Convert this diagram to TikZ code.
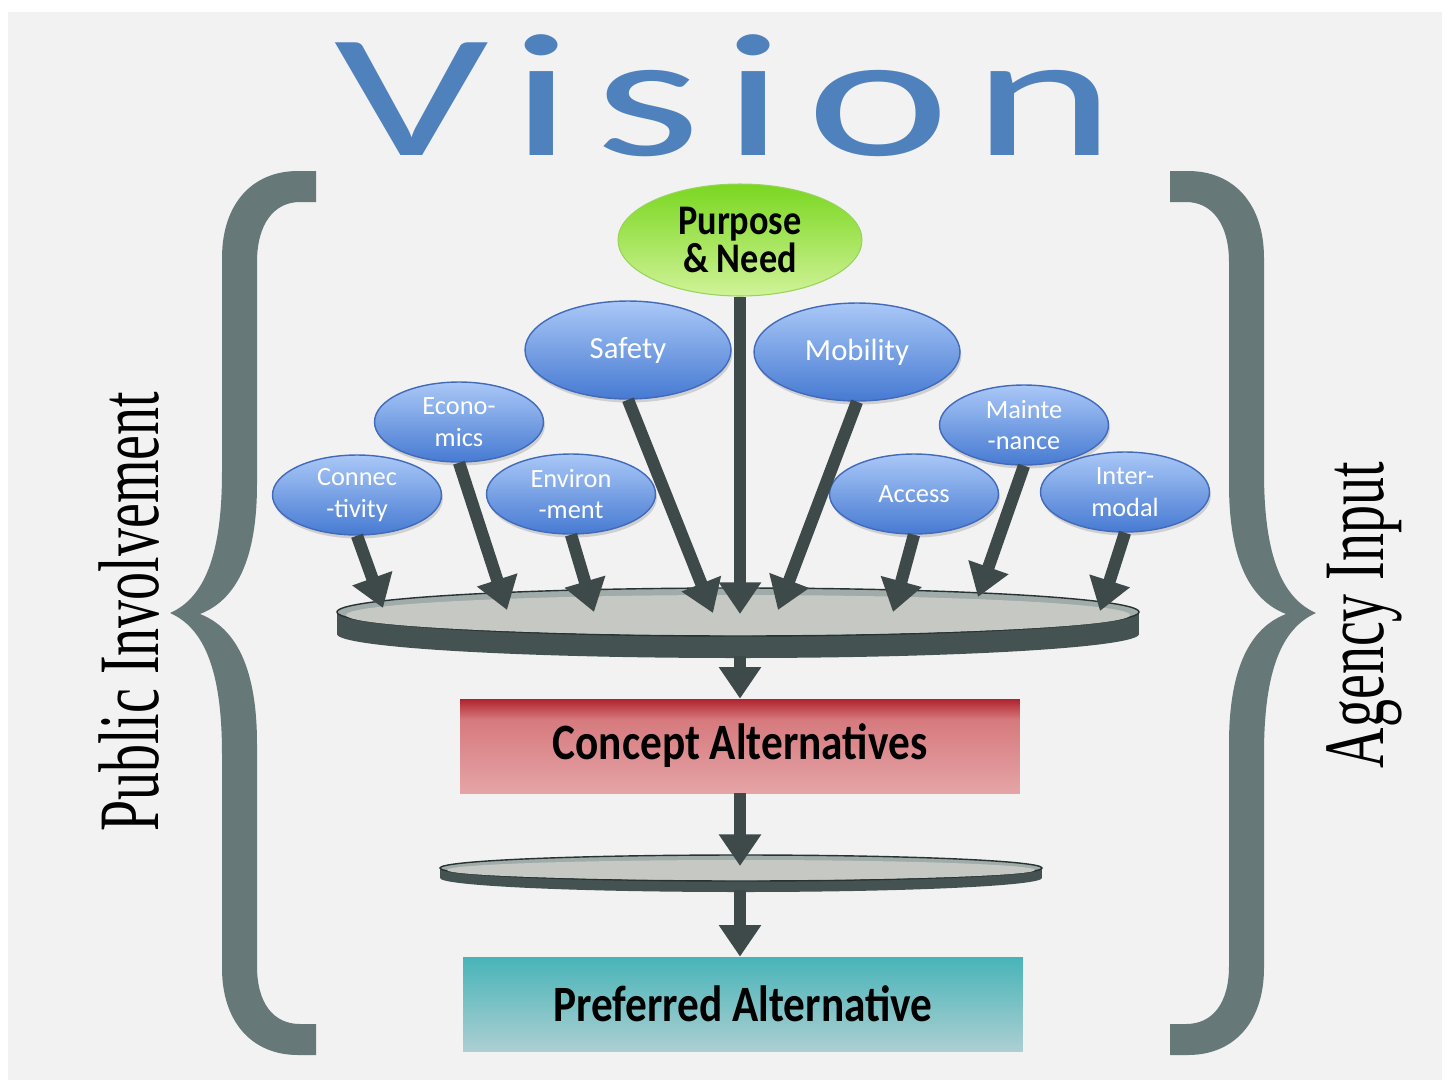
\documentclass[tikz,border=0pt]{standalone}
\usepackage{fontspec}
\newfontfamily\calib{Carlito}
\newfontfamily\visfont[LetterSpace=8]{Carlito}
\newfontfamily\serifcond{Liberation Serif}
\usetikzlibrary{shapes.geometric}
\usetikzlibrary{arrows.meta}
\usetikzlibrary{shadows}

\definecolor{bgray}{RGB}{242,242,242}
\definecolor{visblue}{RGB}{79,129,189}
\definecolor{bracegray}{RGB}{103,120,121}
\definecolor{arrowgray}{RGB}{62,74,74}
\definecolor{bubtop}{RGB}{170,200,247}
\definecolor{bubbot}{RGB}{70,122,210}
\definecolor{bubline}{RGB}{66,106,186}
\definecolor{pntop}{RGB}{122,215,32}
\definecolor{pnbot}{RGB}{208,243,152}
\definecolor{pnline}{RGB}{150,212,90}
\definecolor{discside}{RGB}{68,82,82}
\definecolor{discedge}{RGB}{40,50,50}
\definecolor{discrim}{RGB}{160,172,170}
\definecolor{discface}{RGB}{198,201,195}
\definecolor{redtop}{RGB}{176,36,46}
\definecolor{redmid}{RGB}{214,122,126}
\definecolor{redbot}{RGB}{229,164,166}
\definecolor{tealtop}{RGB}{72,180,184}
\definecolor{tealbot}{RGB}{172,207,210}

\pgfdeclareverticalshading{conceptshade}{100bp}{color(0bp)=(redbot); color(25bp)=(redbot); color(64bp)=(redmid); color(75bp)=(redtop); color(100bp)=(redtop)}

\begin{document}
\begin{tikzpicture}[x=0.02cm, y=-0.02cm,
  bubble/.style={ellipse, draw=bubline, line width=0.8pt, top color=bubtop, bottom color=bubbot,
    text=white, inner sep=0pt, align=center,
    drop shadow={opacity=0.3, shadow xshift=0.8pt, shadow yshift=-2pt}},
  bigbubble/.style={bubble, minimum width=4.12cm, minimum height=1.96cm, font=\calib\fontsize{17.5}{20}\selectfont},
  smallbubble/.style={bubble, minimum width=3.38cm, minimum height=1.6cm, font=\calib\fontsize{15}{18}\selectfont},
  altbox/.style={rectangle, minimum width=11.2cm, minimum height=1.88cm, inner sep=0pt, font=\calib\bfseries\fontsize{29}{32}\selectfont},
  flowarrow/.style={draw=arrowgray, line width=7pt, -{Triangle[width=23pt,length=18pt]}}]

 \useasboundingbox (0,0) rectangle (1448,1083);

 % page and grey backdrop
 \fill [white] (0,0) rectangle (1448,1083);
 \fill [bgray] (8,12) rectangle (1442,1080);

 % the two curly braces, right one mirrored
 \foreach \sh/\xs in {0/1, 1486/-1} {
  \begin{scope}[shift={(\sh,0)}, xscale=\xs]
   \fill [bracegray] (316,171) -- (298,171) .. controls (252,171) and (222,204) .. (222,258)
    -- (222,472) .. controls (222,556) and (204,598) .. (170,613)
    .. controls (204,628) and (222,670) .. (222,754)
    -- (222,968) .. controls (222,1022) and (252,1055) .. (298,1055) -- (316,1055)
    -- (316,1024) -- (300,1024) .. controls (274,1024) and (257,1004) .. (257,966)
    -- (257,744) .. controls (257,668) and (236,628) .. (200,614)
    .. controls (236,600) and (257,560) .. (257,484)
    -- (257,262) .. controls (257,224) and (274,202) .. (300,202) -- (316,202) -- cycle;
  \end{scope}
 }

 % side labels
 \node (public) [rotate=90, inner sep=0pt, font=\serifcond\fontsize{49}{49}\selectfont] at (129,612) {\scalebox{0.65}[1]{Public Involvement}};
 \node (agency) [rotate=90, inner sep=0pt, font=\serifcond\fontsize{49}{49}\selectfont] at (1364,615) {\scalebox{0.65}[1]{Agency Input}};

 % title
 \node (vision) [anchor=base, inner sep=0pt, text=visblue, font=\visfont\fontsize{100}{100}\selectfont] at (725,155) {\scalebox{1.55}[1]{Vision}};

 % big disc
 \fill [discside] (337,612) rectangle (1139,634);
 \fill [discside] (738,634) ellipse [x radius=401, y radius=24];
 \filldraw [fill=discrim, draw=discedge, line width=0.8pt] (738,612) ellipse [x radius=401, y radius=24];
 \fill [discface] (738,615) ellipse [x radius=392, y radius=20];

 % small disc
 \fill [discside] (440,868) rectangle (1042,878);
 \fill [discside] (741,878) ellipse [x radius=301, y radius=14];
 \filldraw [fill=discrim, draw=discedge, line width=0.8pt] (741,868) ellipse [x radius=301, y radius=13];
 \fill [discface] (741,870) ellipse [x radius=294, y radius=10];

 % where the arrows land on the discs
 \coordinate (tipConn) at (383,608);
 \coordinate (tipEcon) at (507,610);
 \coordinate (tipEnv) at (594,612);
 \coordinate (tipSafe) at (713,613);
 \coordinate (tipPurp) at (740,614);
 \coordinate (tipMob) at (778,610);
 \coordinate (tipAcc) at (893,612);
 \coordinate (tipMaint) at (978,597);
 \coordinate (tipInter) at (1100,611);
 \coordinate (discOut) at (740,656);
 \coordinate (smallIn) at (740,866);
 \coordinate (smallOut) at (740,890);

 % purpose and need
 \node (purpose) [ellipse, draw=pnline, line width=0.6pt, top color=pntop, bottom color=pnbot, inner sep=0pt,
   minimum width=4.88cm, minimum height=2.24cm, align=center,
   font=\calib\bfseries\fontsize{24}{22}\selectfont] at (740,240)
   {\scalebox{0.86}[1]{Purpose}\\\scalebox{0.86}[1]{\& Need}};

 % goal bubbles
 \node (safety) [bigbubble] at (628,350) {Safety};
 \node (mobility) [bigbubble] at (857,352) {Mobility};
 \node (econ) [smallbubble] at (459,422) {Econo-\\mics};
 \node (conn) [smallbubble] at (357,495) {Connec\\-tivity};
 \node (envir) [smallbubble] at (571,494) {Environ\\-ment};
 \node (access) [smallbubble] at (914,494) {Access};
 \node (maint) [smallbubble] at (1024,425) {Mainte\\-nance};
 \node (inter) [smallbubble] at (1125,492) {Inter-\\modal};

 % alternatives
 \node (concept) [altbox, shading=conceptshade] at (740,746) {\scalebox{0.85}[1]{Concept Alternatives}};
 \node (preferred) [altbox, top color=tealtop, bottom color=tealbot] at (743,1004) {\scalebox{0.85}[1]{Preferred Alternative}};

 % arrows into the big disc
 \draw [flowarrow] (conn.south) -- (tipConn);
 \draw [flowarrow] (econ.south) -- (tipEcon);
 \draw [flowarrow] (envir.south) -- (tipEnv);
 \draw [flowarrow] (safety.south) -- (tipSafe);
 \draw [flowarrow] (purpose.south) -- (tipPurp);
 \draw [flowarrow] (mobility.south) -- (tipMob);
 \draw [flowarrow] (access.south) -- (tipAcc);
 \draw [flowarrow] (maint.south) -- (tipMaint);
 \draw [flowarrow] (inter.south) -- (tipInter);

 % down the chain
 \draw [flowarrow] (discOut) -- (concept.north);
 \draw [flowarrow] (concept.south) -- (smallIn);
 \draw [flowarrow] (smallOut) -- (smallOut |- preferred.north);

\end{tikzpicture}
\end{document}
